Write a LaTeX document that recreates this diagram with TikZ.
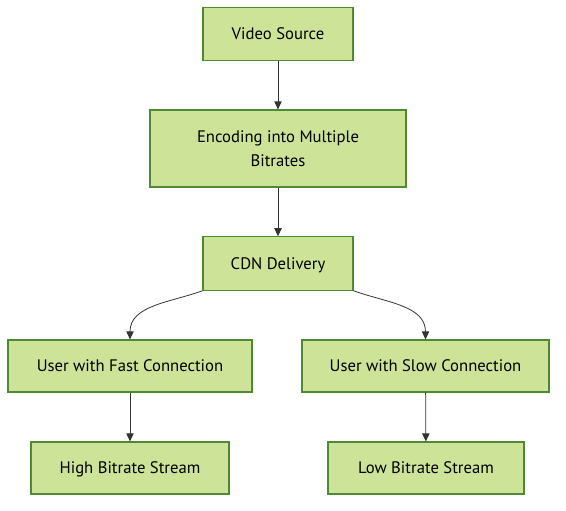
\documentclass[tikz,border=0pt]{standalone}
\usepackage{fontspec}
\setmainfont{PT Sans}
\usetikzlibrary{arrows.meta}
\definecolor{boxfill}{HTML}{CDE498}
\definecolor{boxline}{HTML}{4E8A35}
\definecolor{edgeline}{HTML}{333333}
\begin{document}
\begin{tikzpicture}[x=0.75pt, y=-0.75pt,
    box/.style={draw=boxline, fill=boxfill, line width=0.9pt, font=\fontsize{12.5}{18}\selectfont,
      align=center, inner sep=0pt, minimum height=40pt},
    oneline/.style={box, text height=10.5pt, text depth=2pt},
    flow/.style={draw=edgeline, line width=0.6pt, -{Triangle[length=6pt,width=5.5pt]}}]
  \useasboundingbox (0,0) rectangle (566,510);
  \node[oneline, minimum width=112.5pt] (source) at (278,34) {Video Source};
  \node[box, minimum width=192pt, minimum height=57.75pt] (encode) at (278,148.5) {Encoding into Multiple\\Bitrates};
  \node[oneline, minimum width=112.5pt] (cdn) at (278,263.5) {CDN Delivery};
  \node[oneline, minimum width=183pt, minimum height=39pt] (fast) at (130,366) {User with Fast Connection};
  \node[oneline, minimum width=185.25pt, minimum height=39pt] (slow) at (425.5,366) {User with Slow Connection};
  \node[oneline, minimum width=148.5pt, minimum height=39pt] (high) at (130,468) {High Bitrate Stream};
  \node[oneline, minimum width=147pt, minimum height=39pt] (low) at (426,468) {Low Bitrate Stream};
  % edges
  \draw[flow] (source) -- (encode);
  \draw[flow] (encode) -- (cdn);
  \draw[flow] (cdn.south west) to[out=200, in=90] (fast.north);
  \draw[flow] (cdn.south east) to[out=-20, in=90] (slow.north);
  \draw[flow] (fast) -- (high);
  \draw[flow] (slow) -- (low);
\end{tikzpicture}
\end{document}
